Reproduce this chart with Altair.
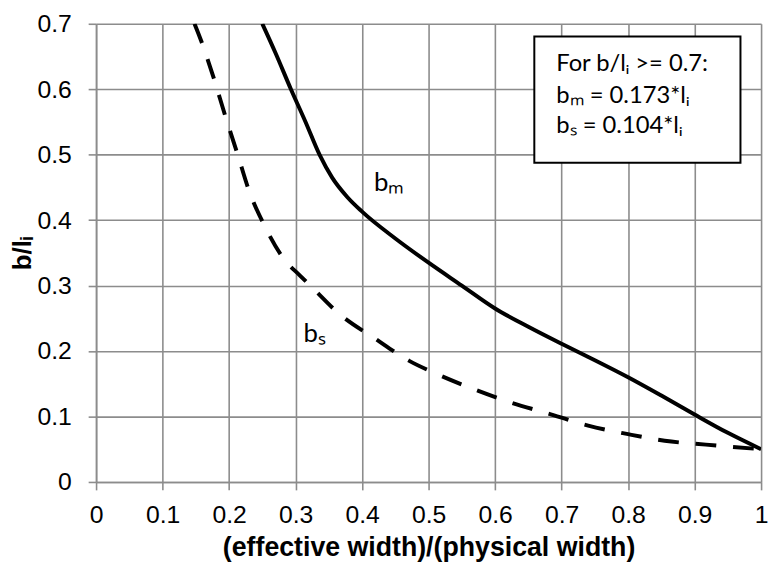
import altair as alt
import pandas as pd

# b_m (solid) curve
bm_x = [0.25, 0.27, 0.293, 0.315, 0.336, 0.355, 0.378, 0.40, 0.45, 0.50, 0.55, 0.60,
        0.65, 0.70, 0.75, 0.80, 0.85, 0.90, 0.95, 1.00]
bm_y = [0.70, 0.655, 0.60, 0.55, 0.50, 0.465, 0.435, 0.413, 0.372, 0.335, 0.30, 0.265,
        0.237, 0.211, 0.186, 0.160, 0.132, 0.103, 0.075, 0.05]
# b_s (dashed) curve
bs_x = [0.148, 0.158, 0.176, 0.194, 0.213, 0.230, 0.253, 0.283, 0.307, 0.327,
        0.362, 0.421, 0.471, 0.51, 0.57, 0.625, 0.685, 0.74, 0.80, 0.855, 0.917, 1.0]
bs_y = [0.70, 0.674, 0.62, 0.56, 0.50, 0.445, 0.392, 0.34, 0.315, 0.295,
        0.26, 0.218, 0.185, 0.166, 0.141, 0.121, 0.103, 0.086, 0.073, 0.063, 0.057, 0.05]

x_ticks = [0, 0.1, 0.2, 0.3, 0.4, 0.5, 0.6, 0.7, 0.8, 0.9, 1.0]
y_ticks = [0, 0.1, 0.2, 0.3, 0.4, 0.5, 0.6, 0.7]

box_x = [0.659, 0.969]
box_y = [0.4876, 0.6805]
box_lines = ["For b/lᵢ >= 0.7:", "bₘ = 0.173*lᵢ", "bₛ = 0.104*lᵢ"]
box_line_x = [0.692, 0.692, 0.692]
box_line_y = [0.6386, 0.589, 0.544]

curve_labels = ["bₘ", "bₛ"]
curve_label_x = [0.418, 0.312]
curve_label_y = [0.457, 0.226]

bm = pd.DataFrame({"x": bm_x, "y": bm_y})
bs = pd.DataFrame({"x": bs_x, "y": bs_y})
box = pd.DataFrame({"x": [box_x[0]], "x2": [box_x[1]], "y": [box_y[0]], "y2": [box_y[1]]})
lines = pd.DataFrame({"t": box_lines, "x": box_line_x, "y": box_line_y})
labs = pd.DataFrame({"t": curve_labels, "x": curve_label_x, "y": curve_label_y})

xs = alt.Scale(domain=[0, 1], nice=False, zero=False)
ys = alt.Scale(domain=[0, 0.7], nice=False, zero=False)

xaxis = alt.Axis(values=x_ticks, format="~g", title="(effective width)/(physical width)")
yaxis = alt.Axis(values=y_ticks, format="~g", title="b/lᵢ")

solid = alt.Chart(bm).mark_line(color="black", strokeWidth=4, interpolate="monotone", clip=True).encode(
    x=alt.X("x:Q", scale=xs, axis=xaxis),
    y=alt.Y("y:Q", scale=ys, axis=yaxis),
)
dashed = alt.Chart(bs).mark_line(color="black", strokeWidth=4, strokeDash=[21, 17],
                                 interpolate="monotone", clip=True).encode(
    x=alt.X("x:Q", scale=xs),
    y=alt.Y("y:Q", scale=ys),
)
rect = alt.Chart(box).mark_rect(fill="white", stroke="black", strokeWidth=2).encode(
    x=alt.X("x:Q", scale=xs), x2="x2:Q",
    y=alt.Y("y:Q", scale=ys), y2="y2:Q",
)
box_text = alt.Chart(lines).mark_text(align="left", baseline="middle", font="Lato",
                                      fontSize=24, color="black").encode(
    x=alt.X("x:Q", scale=xs), y=alt.Y("y:Q", scale=ys), text="t:N"
)
lab_text = alt.Chart(labs).mark_text(align="left", baseline="middle", font="Lato",
                                     fontSize=26, color="black").encode(
    x=alt.X("x:Q", scale=xs), y=alt.Y("y:Q", scale=ys), text="t:N"
)

chart = alt.layer(solid, dashed, rect, box_text, lab_text).properties(
    width=672, height=463,
    autosize=alt.AutoSizeParams(type="none"),
    padding={"left": 89, "top": 13, "right": 8, "bottom": 83},
).configure_view(stroke=None).configure_axis(
    grid=True, gridColor="#8c8c8c", gridWidth=1.6,
    domainColor="#8c8c8c", domainWidth=1.6,
    tickColor="#8c8c8c", tickWidth=1.6, tickSize=8,
    labelFont="Liberation Sans", labelFontSize=25, labelColor="black",
    titleFont="Liberation Sans", titleFontWeight="bold", titleColor="black",
).configure_axisX(labelPadding=13, titlePadding=7, titleFontSize=27, labelFlush=False).configure_axisY(
    labelPadding=17, titlePadding=2, titleFontSize=26, labelFlush=False
)

chart.save("out.html", embed_options={"renderer": "svg", "actions": False})
